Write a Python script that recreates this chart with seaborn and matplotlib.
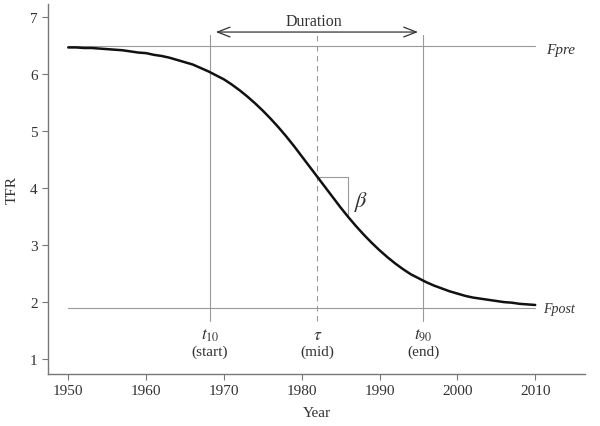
import matplotlib
matplotlib.use("Agg")
import matplotlib.pyplot as plt
import seaborn as sns
import pandas as pd

# TFR curve (yearly)
years = list(range(1950, 2011))
tfr = [6.47, 6.47, 6.46, 6.46, 6.45, 6.44, 6.43, 6.42, 6.40, 6.38,
       6.37, 6.34, 6.32, 6.29, 6.25, 6.21, 6.17, 6.11, 6.05, 5.98,
       5.91, 5.82, 5.72, 5.61, 5.49, 5.36, 5.22, 5.07, 4.91, 4.74,
       4.56, 4.38, 4.20, 4.02, 3.84, 3.66, 3.49, 3.33, 3.18, 3.04,
       2.91, 2.79, 2.68, 2.58, 2.49, 2.42, 2.35, 2.29, 2.24, 2.19,
       2.15, 2.11, 2.08, 2.06, 2.04, 2.02, 2.00, 1.99, 1.97, 1.96, 1.95]

# reference levels and transition markers
f_pre = 6.5
f_post = 1.9
t10 = 1968.2
tau = 1982.0
t90 = 1995.6
beta_x = 1986.0
beta_y = 3.49
marker_labels = [r"$t_{10}$", r"$\tau$", r"$t_{90}$"]
marker_sub = ["(start)", "(mid)", "(end)"]

df = pd.DataFrame({"Year": years, "TFR": tfr})

sns.set_style("ticks")
plt.rcParams["font.family"] = ["Liberation Serif", "DejaVu Serif"]
plt.rcParams["mathtext.fontset"] = "stix"

fig = plt.figure(figsize=(6, 4.27), dpi=100)
ax = fig.add_axes([0.08, 0.122, 0.895, 0.866])

grey = "#9a9a9a"
txt = "#333333"

# horizontal levels
ax.plot([1950, 2010], [f_pre, f_pre], color=grey, lw=0.8)
ax.plot([1950, 2010], [f_post, f_post], color=grey, lw=0.8)

# vertical markers
ax.plot([t10, t10], [1.67, 6.68], color=grey, lw=0.8)
ax.plot([t90, t90], [1.67, 6.68], color=grey, lw=0.8)
ax.plot([tau, tau], [1.67, 6.68], color=grey, lw=0.8, ls=(0, (5, 4)))

# slope triangle
ax.plot([tau, beta_x, beta_x], [4.2, 4.2, beta_y], color=grey, lw=0.8)

sns.lineplot(data=df, x="Year", y="TFR", ax=ax, color="#111111", lw=1.8)

# duration arrow
ax.annotate("", xy=(t10 + 0.4, 6.74), xytext=(t90 - 0.3, 6.74),
            arrowprops=dict(arrowstyle="<->,head_length=0.9,head_width=0.35",
                            color="#333333", lw=0.9))
ax.text(1981.6, 6.94, "Duration", ha="center", va="center", fontsize=11.5, color=txt)

ax.text(1987.7, 3.77, r"$\beta$", ha="center", va="center", fontsize=16, color=txt)

ax.text(2011.4, 6.44, "Fpre", ha="left", va="center", fontsize=11,
        style="italic", color=txt)
ax.text(2011.0, 1.88, "Fpost", ha="left", va="center", fontsize=10,
        style="italic", color=txt)

for x, lab, sub in zip([t10, tau, t90], marker_labels, marker_sub):
    ax.text(x, 1.42, lab, ha="center", va="center", fontsize=12.5, color=txt)
    ax.text(x, 1.13, sub, ha="center", va="center", fontsize=11, color=txt)

ax.set_xlim(1947.4, 2016.4)
ax.set_ylim(0.74, 7.23)
ax.set_xticks([1950, 1960, 1970, 1980, 1990, 2000, 2010])
ax.set_yticks([1, 2, 3, 4, 5, 6, 7])
ax.set_xlabel("Year", fontsize=11, color=txt, labelpad=6)
ax.set_ylabel("TFR", fontsize=11, color=txt, labelpad=8)
ax.tick_params(colors="#777777", labelcolor=txt, labelsize=11, length=4, width=0.8)
for s in ["left", "bottom"]:
    ax.spines[s].set_color("#777777")
    ax.spines[s].set_linewidth(1.0)
sns.despine(ax=ax)

fig.savefig("out.png", dpi=100)
